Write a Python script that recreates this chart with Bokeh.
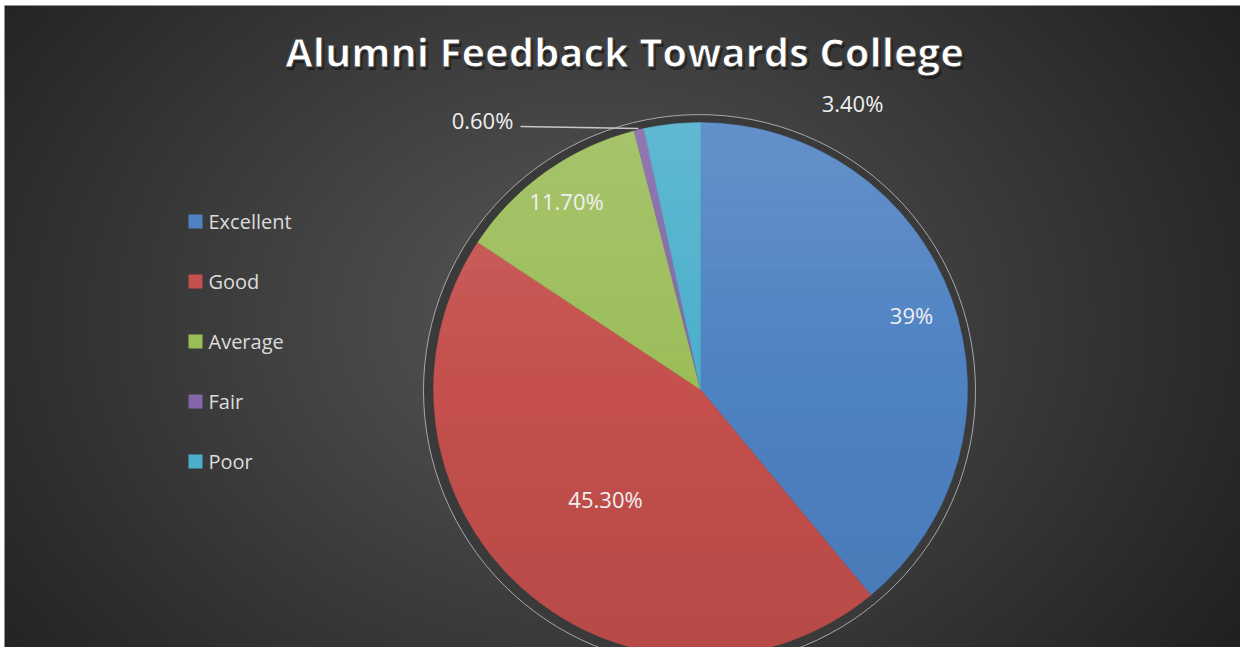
import numpy as np
from bokeh.plotting import figure
from bokeh.models import Range1d, ColumnDataSource
from bokeh.core.properties import value
from bokeh.embed import file_html
from bokeh.resources import INLINE

# ---- data ----
categories = ["Excellent", "Good", "Average", "Fair", "Poor"]
percentages = [39.0, 45.3, 11.7, 0.6, 3.4]
label_texts = ["39%", "45.30%", "11.70%", "0.60%", "3.40%"]
title_text = "Alumni Feedback Towards College"

# ---- style ----
colors = ["#4f82c3", "#c5504d", "#9bbd59", "#8466a8", "#4bafcb"]
W, H = 1240, 647


def sx(x):
    return x


def sy(y):
    return H - y


p = figure(width=W, height=H, x_range=Range1d(0, W), y_range=Range1d(0, H),
           output_backend="svg", toolbar_location=None, min_border=0,
           x_axis_location=None, y_axis_location=None,
           border_fill_color="#ffffff", background_fill_color="#ffffff",
           outline_line_color=None)
p.grid.visible = False

# background radial gradient (dark area starts at x=4, y=5)
x0, y0top = 4, 5
bw, bh = W - x0, H - y0top
gh, gw = bh // 2, bw // 2
ii, jj = np.mgrid[0:gh, 0:gw]
scr_x = x0 + jj * (bw / gw)
scr_y = H - ii * (bh / gh)
d = np.sqrt(((scr_x - 590) / 720.0) ** 2 + ((scr_y - 320) / 560.0) ** 2)
c = np.clip(88 - 52 * d, 33, 95).astype(np.uint8)
img = np.empty((gh, gw), dtype=np.uint32)
view = img.view(dtype=np.uint8).reshape((gh, gw, 4))
view[..., 0] = c
view[..., 1] = c
view[..., 2] = c
view[..., 3] = 255
p.image_rgba(image=[img], x=x0, y=0, dw=bw, dh=bh)

# ring behind the pie
cx, cy, R = sx(700), sy(389), 267
p.circle(x=cx - 1, y=cy - 1, radius=276, fill_color="#3a3a3a",
         line_color="#a8a8a8", line_width=1)

# pie
fr = np.array(percentages) / sum(percentages)
cum = np.concatenate([[0.0], np.cumsum(fr)])
start = np.pi / 2 - 2 * np.pi * cum[:-1]
end = np.pi / 2 - 2 * np.pi * cum[1:]
src = ColumnDataSource(dict(start=start, end=end, color=colors, cat=categories))
p.wedge(x=cx, y=cy, radius=R, start_angle="start", end_angle="end",
        direction="clock", fill_color="color", line_color="color",
        line_width=0.5, source=src)

# soft vertical shading over the pie (lighter top, darker bottom)
nstrip = 40
xs_list, ys_list, fills, alphas = [], [], [], []
edges = np.linspace(R, -R, nstrip + 1)
for k in range(nstrip):
    yt, yb = edges[k], edges[k + 1]
    yy = np.linspace(yt, yb, 12)
    xr = np.sqrt(np.clip(R * R - yy * yy, 0, None))
    xs_list.append(list(cx + xr) + list(cx - xr[::-1]))
    ys_list.append(list(cy + yy) + list(cy + yy[::-1]))
    t = (k + 0.5) / nstrip
    if t < 0.5:
        fills.append("#ffffff")
        alphas.append(0.12 * (0.5 - t) / 0.5)
    else:
        fills.append("#000000")
        alphas.append(0.07 * (t - 0.5) / 0.5)
p.patches(xs=xs_list, ys=ys_list, fill_color=fills, fill_alpha=alphas, line_color=None)

# leader line for the small slice
p.line(x=[sx(520), sx(638)], y=[sy(126), sy(128)], line_color="#c8c8c8", line_width=1.5)

# data labels
lab_x = [911, 605, 566, 482, 852]
lab_y = [314, 498, 200, 119, 102]
p.text(x=[sx(v) for v in lab_x], y=[sy(v) for v in lab_y], text=label_texts,
       text_font=value("Open Sans"), text_font_size="22px", text_color="#f0f0f0",
       text_align="center", text_baseline="middle")

# legend
leg_y = [sy(221 + 60 * i) for i in range(len(categories))]
p.scatter(x=[sx(195)] * len(categories), y=leg_y, marker="square", size=14,
          fill_color=colors, line_color=None)
p.text(x=[sx(208)] * len(categories), y=leg_y, text=categories,
       text_font=value("Open Sans"), text_font_size="20px", text_color="#dcdcdc",
       text_align="left", text_baseline="middle")

# title
ty = 51
p.text(x=[sx(624) + 2], y=[sy(ty) - 3], text=[title_text],
       text_font=value("Open Sans"), text_font_style="bold", text_font_size="40px",
       text_color="#111111", text_alpha=0.6, text_align="center", text_baseline="alphabetic")
p.text(x=[sx(624)], y=[sy(ty)], text=[title_text],
       text_font=value("Open Sans"), text_font_style="bold", text_font_size="40px",
       text_color="#ffffff", text_outline_color="#3c3c3c",
       text_align="center", text_baseline="alphabetic")

open("out.html", "w").write(file_html(p, INLINE))
